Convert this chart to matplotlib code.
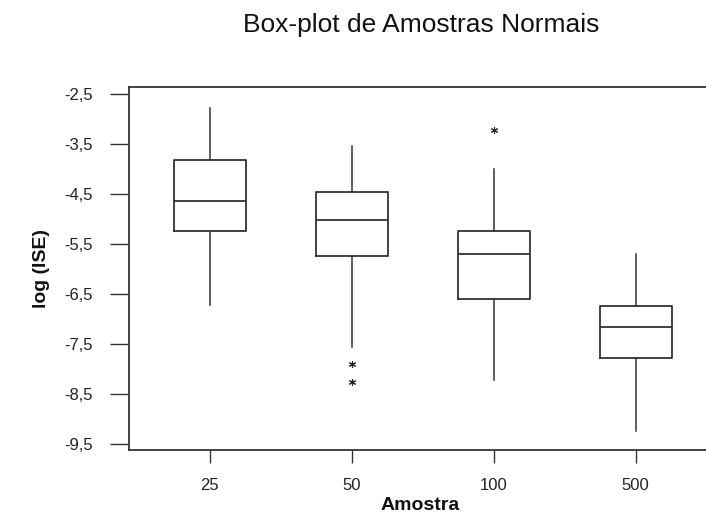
import matplotlib
matplotlib.use("Agg")
import matplotlib.pyplot as plt

categories = ["25", "50", "100", "500"]
# box statistics: whisker low, Q1, median, Q3, whisker high
whislo = [-6.72, -7.55, -8.21, -9.24]
q1 = [-5.24, -5.74, -6.59, -7.77]
med = [-4.65, -5.02, -5.71, -7.15]
q3 = [-3.83, -4.47, -5.23, -6.74]
whishi = [-2.79, -3.55, -4.00, -5.69]
fliers = [[], [-7.89, -8.25], [-3.22], []]
yticks = [-2.5, -3.5, -4.5, -5.5, -6.5, -7.5, -8.5, -9.5]
yticklabels = ["-2,5", "-3,5", "-4,5", "-5,5", "-6,5", "-7,5", "-8,5", "-9,5"]

plt.rcParams['font.family'] = ['Liberation Sans', 'DejaVu Sans']

fig = plt.figure(figsize=(7.06, 5.22), dpi=100)
ax = fig.add_axes([128.7/706, 1-450/522, 1-128.7/706, (450-86.7)/522])

stats = []
for i, c in enumerate(categories):
    stats.append(dict(label=c, whislo=whislo[i], q1=q1[i], med=med[i], q3=q3[i],
                      whishi=whishi[i], fliers=fliers[i]))

lc = "#333333"
ax.bxp(stats, positions=[1, 2, 3, 4], widths=0.507, showcaps=False,
       boxprops=dict(color=lc, linewidth=1.3),
       whiskerprops=dict(color=lc, linewidth=1.1),
       medianprops=dict(color=lc, linewidth=1.3),
       flierprops=dict(marker=(6, 2, 0), markersize=5, markeredgecolor="#222222",
                       markeredgewidth=0.8, linestyle='none'))

ax.set_xlim(0.429, 4.496)
ax.set_ylim(-9.62, -2.354)
ax.set_yticks(yticks)
ax.set_yticklabels(yticklabels)
ax.set_xticks([1, 2, 3, 4])
ax.set_xticklabels(categories)
ax.spines['right'].set_visible(False)
for s in ['left', 'top', 'bottom']:
    ax.spines[s].set_color(lc)
    ax.spines[s].set_linewidth(1.3)
ax.tick_params(axis='y', length=14, width=1.0, color=lc, pad=12, labelsize=12, labelcolor="#222222")
ax.tick_params(axis='x', length=9, width=1.0, color=lc, pad=11, labelsize=12, labelcolor="#222222")

fig.text(421/706, 1-25/522, "Box-plot de Amostras Normais", ha='center', va='center',
         fontsize=19, color="#111111")
fig.text(42/706, 1-268/522, "log (ISE)", ha='center', va='center', rotation=90,
         fontsize=14, fontweight='bold', color="#111111")
fig.text(420/706, 1-506/522, "Amostra", ha='center', va='center',
         fontsize=14, fontweight='bold', color="#111111")

fig.savefig("out.png", dpi=100)
